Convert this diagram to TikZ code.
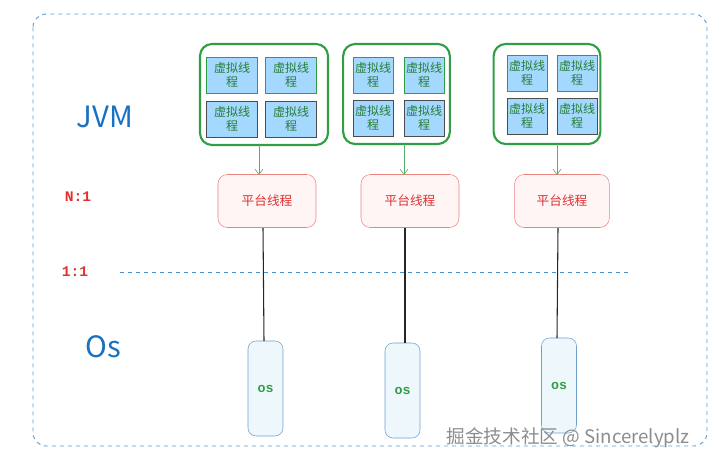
\documentclass[tikz,border=0pt]{standalone}
\usepackage{fontspec}
\setmainfont{Noto Sans CJK SC}
\newfontfamily\cjk{Noto Sans CJK SC}
\newfontfamily\mono{Liberation Mono}
\usetikzlibrary{arrows.meta}
\definecolor{vgreen}{HTML}{2F9E44}
\definecolor{vblue}{HTML}{A5D8FF}
\definecolor{pred}{HTML}{E03131}
\definecolor{pfill}{HTML}{FFF5F5}
\definecolor{osfill}{HTML}{EEF7FC}
\definecolor{osline}{HTML}{6FA0CF}
\definecolor{jblue}{HTML}{1971C2}
\begin{document}
\begin{tikzpicture}[x=0.75pt,y=-0.75pt,
  grp/.style={draw=vgreen,line width=1.6pt,rounded corners=9pt},
  vt/.style={draw=vgreen,fill=vblue,line width=0.6pt,inner sep=0pt,align=center,font=\cjk\fontsize{9}{10}\selectfont,text=vgreen!80!black},
  vtd/.style={vt,draw=black!70},
  pt/.style={draw=pred!60,fill=pfill,rounded corners=7pt,minimum width=73.5pt,minimum height=39.75pt,text=pred,font=\cjk\fontsize{9.5}{10}\selectfont},
  os/.style={draw=osline,fill=osfill,rounded corners=6pt,minimum width=26.25pt,minimum height=71.25pt,text=vgreen,font=\mono\bfseries\fontsize{10}{10}\selectfont},
  arr/.style={draw=vgreen!80,-{Straight Barb[length=4pt,width=6pt]},line width=0.5pt},
  lnk/.style={draw=black!85,line width=0.8pt}]
\useasboundingbox (0,0) rectangle (727,467);
\draw[jblue!70,dashed,line width=0.7pt,rounded corners=10pt] (33,14) rectangle (707,446);
\draw[jblue!80,dashed,line width=0.7pt] (120,272) -- (630,272);
% group 1
\node[grp,minimum width=96pt,minimum height=75.75pt] (g1) at (264,94.5) {};
\node[vt,minimum width=38pt,minimum height=27pt] (v11) at (232,75) {虚拟线\\程};
\node[vt,minimum width=38pt,minimum height=27pt] (v12) at (291,75) {虚拟线\\程};
\node[vtd,minimum width=38pt,minimum height=27pt] (v13) at (232,119) {虚拟线\\程};
\node[vtd,minimum width=38pt,minimum height=27pt] (v14) at (291,119) {虚拟线\\程};
% group 2
\node[grp,minimum width=80pt,minimum height=75pt] (g2) at (396.5,94) {};
\node[vt,minimum width=30pt,minimum height=27pt] (v21) at (373,75) {虚拟线\\程};
\node[vt,minimum width=30pt,minimum height=27pt] (v22) at (424,75) {虚拟线\\程};
\node[vtd,minimum width=30pt,minimum height=27pt] (v23) at (373,118) {虚拟线\\程};
\node[vtd,minimum width=30pt,minimum height=27pt] (v24) at (424,118) {虚拟线\\程};
% group 3
\node[grp,minimum width=80pt,minimum height=75pt] (g3) at (547,94) {};
\node[vt,minimum width=30pt,minimum height=27pt] (v31) at (527,73) {虚拟线\\程};
\node[vt,minimum width=30pt,minimum height=27pt] (v32) at (577,73) {虚拟线\\程};
\node[vtd,minimum width=30pt,minimum height=27pt] (v33) at (527,116) {虚拟线\\程};
\node[vtd,minimum width=30pt,minimum height=27pt] (v34) at (577,116) {虚拟线\\程};
% platform
\node[pt] (p1) at (267,201) {平台线程};
\node[pt] (p2) at (410,201) {平台线程};
\node[pt,minimum width=71pt] (p3) at (562,201) {平台线程};
% os
\node[os] (o1) at (265.5,388.5) {os};
\node[os] (o2) at (402.5,390.5) {os};
\node[os] (o3) at (559,385.5) {os};
\draw[arr] (259,145) -- (259,175);
\draw[arr] (404,144) -- (404,175);
\draw[arr] (557,144) -- (557,175);
\draw[lnk] (263,228) -- (264,341);
\draw[lnk] (405,228) -- (405,343);
\draw[lnk] (558,228) -- (557,338);
% labels
\node[text=jblue,font=\fontsize{22}{24}\selectfont] (jvm) at (105,117) {JVM};
\node[text=jblue,font=\fontsize{22}{24}\selectfont] (oslab) at (103,347) {Os};
\node[text=pred,font=\mono\bfseries\fontsize{11}{12}\selectfont] (n1) at (78,197) {N:1};
\node[text=pred,font=\mono\bfseries\fontsize{11}{12}\selectfont] (o11) at (75,272) {1:1};
\node[text=black!45,font=\cjk\fontsize{14}{16}\selectfont] (wm) at (568,438) {掘金技术社区 @ Sincerelyplz};
\end{tikzpicture}
\end{document}
